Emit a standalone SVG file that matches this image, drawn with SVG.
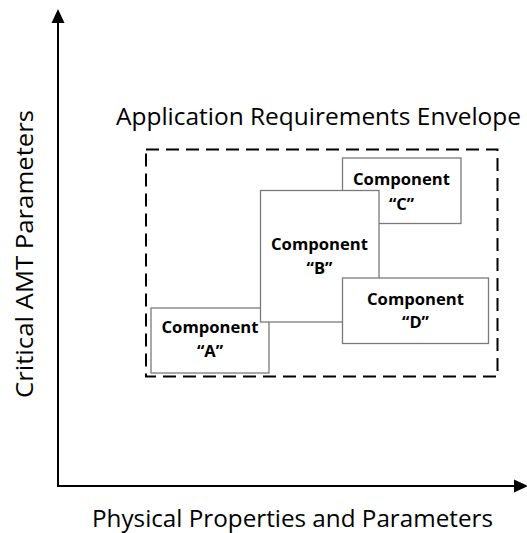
<svg xmlns="http://www.w3.org/2000/svg" width="527" height="533" viewBox="0 0 527 533">
<style>
.box{fill:#fff;stroke:#7a7a7a;stroke-width:1.3}
.lbl{font-family:"Open Sans","Liberation Sans",sans-serif;font-weight:bold;font-size:16.5px;fill:#000;text-anchor:middle}
.big{font-family:"Open Sans","Liberation Sans",sans-serif;font-size:24px;fill:#000}
.axis{stroke:#000;stroke-width:2;fill:none}
</style>
<g id="connectors">
<path class="axis" d="M58,486 V20" />
<path d="M51.5,23 L58,9 L64.5,23 z" fill="#000"/>
<path class="axis" d="M57,486 H516" />
<path d="M514,479.5 L528,486 L514,492.5 z" fill="#000"/>
</g>
<g id="envelope">
<rect x="146" y="149.5" width="351.5" height="227" fill="none" stroke="#000" stroke-width="2" stroke-dasharray="13,7"/>
<text class="big" x="116" y="125" textLength="405" lengthAdjust="spacingAndGlyphs">Application Requirements Envelope</text>
</g>
<g id="compA">
<rect class="box" x="151" y="308" width="118" height="65"/>
<text class="lbl" x="210" y="333" textLength="97" lengthAdjust="spacingAndGlyphs">Component</text>
<text class="lbl" x="210" y="357">“A”</text>
</g>
<g id="compC">
<rect class="box" x="342.5" y="158" width="118.5" height="65.5"/>
<text class="lbl" x="401.5" y="185" textLength="97" lengthAdjust="spacingAndGlyphs">Component</text>
<text class="lbl" x="401.5" y="210">“C”</text>
</g>
<g id="compB">
<rect class="box" x="260.5" y="190.5" width="118.5" height="131.5"/>
<text class="lbl" x="319.5" y="250" textLength="97" lengthAdjust="spacingAndGlyphs">Component</text>
<text class="lbl" x="319.5" y="274">“B”</text>
</g>
<g id="compD">
<rect class="box" x="342.5" y="278" width="146" height="65.5"/>
<text class="lbl" x="415.5" y="305" textLength="97" lengthAdjust="spacingAndGlyphs">Component</text>
<text class="lbl" x="415.5" y="328">“D”</text>
</g>
<g id="xlabel">
<text class="big" x="92" y="527" textLength="401" lengthAdjust="spacingAndGlyphs">Physical Properties and Parameters</text>
</g>
<g id="ylabel">
<text class="big" font-size="25" transform="translate(33,398) rotate(-90)" x="0" y="0" textLength="288" lengthAdjust="spacingAndGlyphs">Critical AMT Parameters</text>
</g>
</svg>
